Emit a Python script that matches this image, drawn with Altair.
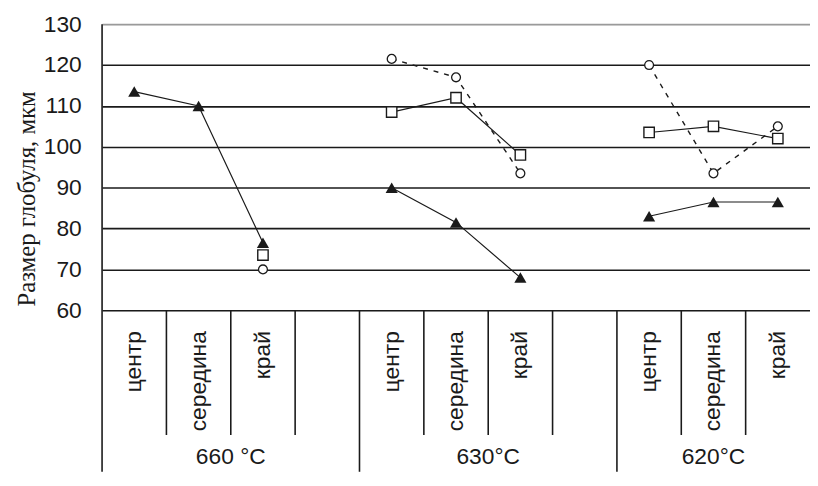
import altair as alt
import pandas as pd

# ---- data ----
groups = ["660 °C", "630°C", "620°C"]
positions = ["центр", "середина", "край"]

triangle_660 = [113.5, 110.0, 76.5]
square_660 = [None, None, 73.5]
circle_660 = [None, None, 70.0]

triangle_630 = [90.0, 81.5, 68.0]
square_630 = [108.5, 112.0, 98.0]
circle_630 = [121.5, 117.0, 93.5]

triangle_620 = [83.0, 86.5, 86.5]
square_620 = [103.5, 105.0, 102.0]
circle_620 = [120.0, 93.5, 105.0]

y_ticks = [60, 70, 80, 90, 100, 110, 120, 130]

# ---- layout of the category table (slots on x; y extends below the axis) ----
group_start = [0, 4, 8]          # first slot of each group
group_slots = [4, 4, 3]          # number of slots in each group
TABLE_BOTTOM = 20.5
SHORT_END = 29.5
CAT_TOP = 54.9
GROUP_LABEL = 24.2

series = {
    "triangle": [triangle_660, triangle_630, triangle_620],
    "square": [square_660, square_630, square_620],
    "circle": [circle_660, circle_630, circle_620],
}

rows = []
for s, per_group in series.items():
    for gi, vals in enumerate(per_group):
        for pi, val in enumerate(vals):
            if val is None:
                continue
            rows.append({"series": s, "group": groups[gi],
                         "x": group_start[gi] + pi + 0.5, "v": val})
df = pd.DataFrame(rows)

# table lines
lines = []
for gi in range(3):
    g0 = group_start[gi]
    lines.append({"x": g0, "v": 130 if gi == 0 else 60, "v2": TABLE_BOTTOM})
    for k in range(1, group_slots[gi]):
        lines.append({"x": g0 + k, "v": 60, "v2": SHORT_END})
lines_df = pd.DataFrame(lines)

cat_df = pd.DataFrame([
    {"x": group_start[gi] + pi + 0.5, "v": CAT_TOP, "label": p}
    for gi in range(3) for pi, p in enumerate(positions)
])
grp_df = pd.DataFrame([
    {"x": group_start[gi] + group_slots[gi] / 2, "v": GROUP_LABEL, "label": groups[gi]}
    for gi in range(3)
])

INK = "#1a1a1a"
SANS = "Liberation Sans"

x_enc = alt.X("x:Q", scale=alt.Scale(domain=[0, 11], nice=False, zero=False), axis=None)
y_axis = alt.Axis(
    values=y_ticks, grid=True,
    gridColor={"condition": {"test": "datum.value === 130", "value": "#9a9a9a"}, "value": INK},
    gridWidth=1.6, domain=False, ticks=False, tickSize=0,
    labelFont=SANS, labelFontSize=23, labelColor=INK, labelPadding=21,
    title="Размер глобуля, мкм", titleFont="Liberation Serif", titleFontSize=25,
    titleFontWeight="normal", titleColor=INK, titleAngle=270,
    titleX=-76, titleY=176, titleAlign="center", titleBaseline="middle",
)
y_enc = alt.Y("v:Q", scale=alt.Scale(domain=[60, 130], nice=False, zero=False), axis=y_axis)

table = alt.Chart(lines_df).mark_rule(color=INK, strokeWidth=1.6).encode(
    x=x_enc, y=y_enc, y2="v2:Q")

solid = df[df.series != "circle"]
dashed = df[df.series == "circle"]

line_solid = alt.Chart(solid).mark_line(color=INK, strokeWidth=1.2).encode(
    x=x_enc, y=y_enc, detail="key:N"
).transform_calculate(key="datum.series + datum.group")

line_dashed = alt.Chart(dashed).mark_line(color=INK, strokeWidth=1.4, strokeDash=[5, 6]).encode(
    x=x_enc, y=y_enc, detail="group:N")

tri = alt.Chart(df[df.series == "triangle"]).mark_point(
    shape="triangle-up", filled=True, size=150, color=INK, opacity=1).encode(x=x_enc, y=y_enc)
sq = alt.Chart(df[df.series == "square"]).mark_point(
    shape="square", filled=True, fill="white", stroke=INK, strokeWidth=1.4, size=110, opacity=1
).encode(x=x_enc, y=y_enc)
circ = alt.Chart(dashed).mark_point(
    shape="circle", filled=True, fill="white", stroke=INK, strokeWidth=1.3, size=80, opacity=1
).encode(x=x_enc, y=y_enc)

cat_text = alt.Chart(cat_df).mark_text(
    angle=270, align="right", baseline="middle", font=SANS, fontSize=23, color=INK
).encode(x=x_enc, y=y_enc, text="label:N")

grp_text = alt.Chart(grp_df).mark_text(
    align="center", baseline="middle", font=SANS, fontSize=23, color=INK
).encode(x=x_enc, y=y_enc, text="label:N")

chart = alt.layer(table, line_solid, line_dashed, sq, circ, tri, cat_text, grp_text).properties(
    width=715, height=289,
    padding={"left": 95, "top": 14, "right": 0, "bottom": 163},
    autosize="none",
).configure_view(stroke=None).configure(background="white")

chart.save("out.html", embed_options={"renderer": "svg", "actions": False})
